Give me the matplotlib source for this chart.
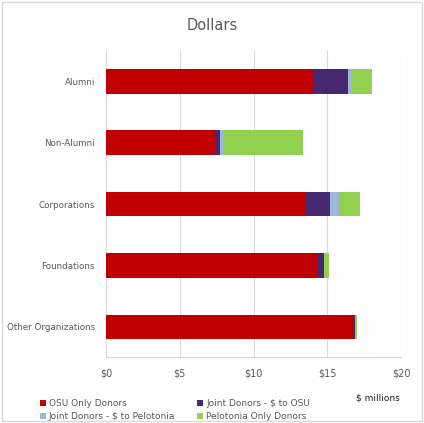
import matplotlib.pyplot as plt
import numpy as np

categories = ["Alumni", "Non-Alumni", "Corporations", "Foundations", "Other Organizations"]
series_names = ["OSU Only Donors", "Joint Donors - $ to OSU",
                "Joint Donors - $ to Pelotonia", "Pelotonia Only Donors"]
osu_only = [14.05, 7.39, 13.47, 14.40, 16.81]
joint_osu = [2.33, 0.34, 1.72, 0.36, 0.07]
joint_pel = [0.21, 0.22, 0.58, 0.04, 0.02]
pel_only = [1.44, 5.43, 1.43, 0.30, 0.10]
colors = ["#C00000", "#46286E", "#9DB6DA", "#92D050"]
xticks = [0, 5, 10, 15, 20]
xticklabels = ["$0", "$5", "$10", "$15", "$20"]

fig = plt.figure(figsize=(4.24, 4.23), dpi=100)
ax = fig.add_axes([0.25, 0.155, 0.696, 0.725])

y = np.arange(len(categories))
left = np.zeros(len(categories))
for vals, name, c in zip([osu_only, joint_osu, joint_pel, pel_only], series_names, colors):
    ax.barh(y, vals, left=left, height=0.4, color=c, label=name, zorder=3)
    left += np.array(vals)

ax.set_ylim(4.5, -0.5)
ax.set_xlim(0, 20)
ax.set_xticks(xticks)
ax.set_xticklabels(xticklabels, color="#595959", fontsize=7)
ax.set_yticks(y)
ax.set_yticklabels(categories, color="#595959", fontsize=6.3)
ax.tick_params(length=0, pad=8)
ax.grid(axis="x", color="#D9D9D9", linewidth=0.8, zorder=0)
for s in ["top", "right", "left"]:
    ax.spines[s].set_visible(False)
ax.spines["bottom"].set_color("#D9D9D9")

fig.text(0.5, 0.94, "Dollars", ha="center", va="center", fontsize=10.5, color="#595959")
fig.text(0.84, 0.058, "$ millions", ha="left", va="center", fontsize=6.5, color="#222222")

# legend filled row by row like the original
h, l = ax.get_legend_handles_labels()
order = [0, 2, 1, 3]
leg = fig.legend([h[i] for i in order], [l[i] for i in order],
                 loc="lower left", bbox_to_anchor=(0.075, -0.015), ncol=2, frameon=False,
                 fontsize=6.5, handlelength=0.7, handleheight=0.7, handletextpad=0.3,
                 columnspacing=2.4, labelspacing=0.45)
for t in leg.get_texts():
    t.set_color("#595959")

fig.patches.append(plt.Rectangle((0.005, 0.005), 0.99, 0.99, transform=fig.transFigure,
                                 fill=False, edgecolor="#D9D9D9", linewidth=1))

plt.savefig("out.png", dpi=100)
